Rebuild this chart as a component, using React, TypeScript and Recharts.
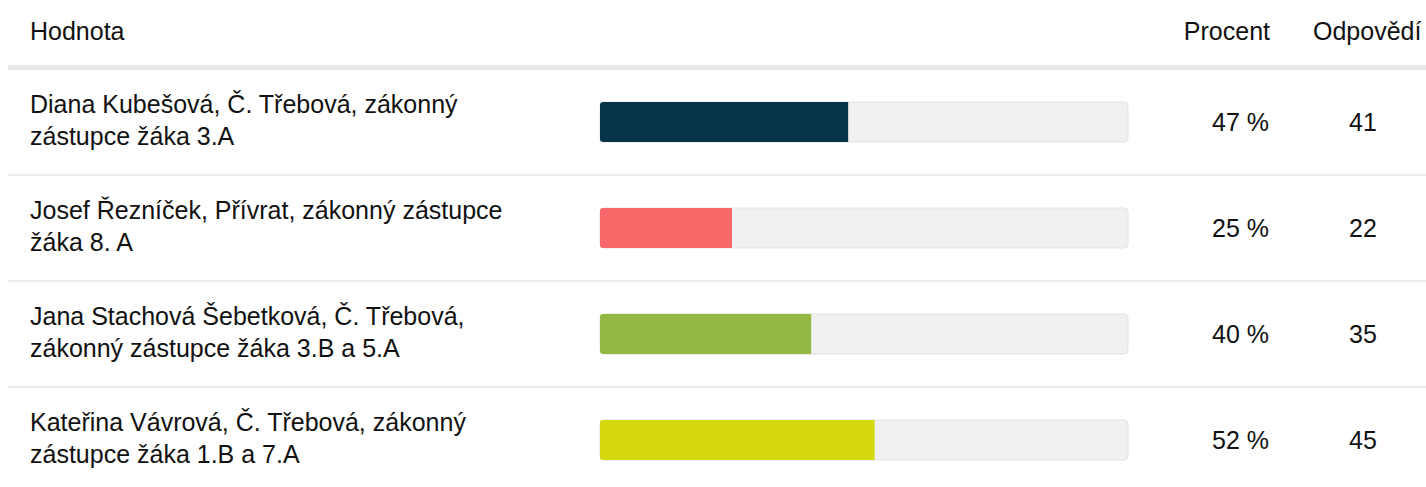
import React from 'react';
import { BarChart, Bar, XAxis, YAxis, Cell, LabelList } from 'recharts';

const labelLines: string[][] = [
  ['Diana Kubešová, Č. Třebová, zákonný', 'zástupce žáka 3.A'],
  ['Josef Řezníček, Přívrat, zákonný zástupce', 'žáka 8. A'],
  ['Jana Stachová Šebetková, Č. Třebová,', 'zákonný zástupce žáka 3.B a 5.A'],
  ['Kateřina Vávrová, Č. Třebová, zákonný', 'zástupce žáka 1.B a 7.A'],
];
const percents = [47, 25, 40, 52];
const counts = [41, 22, 35, 45];
const colors = ['#06344b', '#f76868', '#93b843', '#d6d80e'];

const data = percents.map((p, i) => ({
  name: labelLines[i].join(' '),
  percent: p,
  count: counts[i],
}));

const FONT = '"Liberation Sans", Arial, sans-serif';
const FS = 25;
const ROW_HALF = 53;

const LabelTick = (props: any) => {
  const { y, payload, index } = props;
  const lines = labelLines[index] || [payload.value];
  return (
    <g>
      {lines.map((l, i) => (
        <text key={i} x={30} y={y - 9 + i * 32} fontFamily={FONT} fontSize={FS} fill="#111">
          {l}
        </text>
      ))}
      {index < labelLines.length - 1 && (
        <rect x={8} y={y + ROW_HALF - 1} width={1418} height={2} fill="#ebebeb" />
      )}
    </g>
  );
};

const ValueLabels = (props: any) => {
  const { y, height, index } = props;
  const base = y + height / 2 + 9;
  return (
    <g>
      <text x={1269} y={base} textAnchor="end" fontFamily={FONT} fontSize={FS} fill="#111">
        {percents[index]} %
      </text>
      <text x={1363} y={base} textAnchor="middle" fontFamily={FONT} fontSize={FS} fill="#111">
        {counts[index]}
      </text>
    </g>
  );
};

export default function App() {
  return (
    <div style={{ position: 'absolute', left: 0, top: 0, width: 1426, height: 487, overflow: 'hidden', background: '#fff' }}>
      <svg width={1426} height={80} style={{ position: 'absolute', left: 0, top: 0 }}>
        <text x={30} y={40} fontFamily={FONT} fontSize={FS} fill="#111">Hodnota</text>
        <text x={1270} y={40} textAnchor="end" fontFamily={FONT} fontSize={FS} fill="#111">Procent</text>
        <text x={1313} y={40} fontFamily={FONT} fontSize={FS} fill="#111">Odpovědí</text>
        <rect x={8} y={65} width={1418} height={5} fill="#e8e8e8" />
      </svg>
      <div style={{ position: 'absolute', left: 0, top: 0 }}>
        <BarChart
          width={1426}
          height={500}
          data={data}
          layout="vertical"
          margin={{ top: 69, right: 298, bottom: 7, left: 0 }}
          barSize={40}
        >
          <XAxis type="number" domain={[0, 100]} hide />
          <YAxis
            type="category"
            dataKey="name"
            width={600}
            axisLine={false}
            tickLine={false}
            tick={<LabelTick />}
            interval={0}
          />
          <Bar
            dataKey="percent"
            isAnimationActive={false}
            radius={[3, 0, 0, 3]}
            background={{ fill: '#f0f0f0', stroke: '#e3e3e3', strokeWidth: 1, radius: 4 }}
          >
            {data.map((d, i) => (
              <Cell key={d.name} fill={colors[i]} />
            ))}
            <LabelList dataKey="percent" content={<ValueLabels />} />
          </Bar>
        </BarChart>
      </div>
    </div>
  );
}
